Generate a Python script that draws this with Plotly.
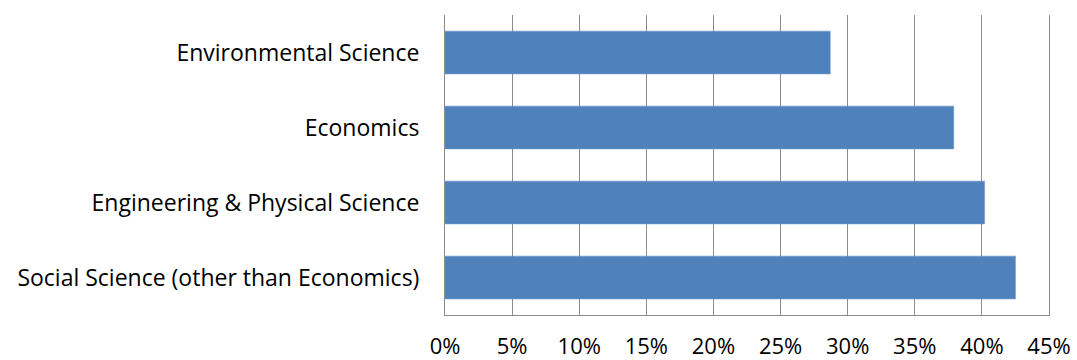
import plotly.graph_objects as go

# Share of respondents by field (top to bottom as displayed)
categories = [
    "Environmental Science",
    "Economics",
    "Engineering & Physical Science",
    "Social Science (other than Economics)",
]
shares = [0.287, 0.379, 0.402, 0.425]

tick_values = [0, 0.05, 0.10, 0.15, 0.20, 0.25, 0.30, 0.35, 0.40, 0.45]
tick_labels = ["0%", "5%", "10%", "15%", "20%", "25%", "30%", "35%", "40%", "45%"]

font_family = "'Open Sans', sans-serif"
label_size = 23

fig = go.Figure(
    go.Bar(
        x=shares,
        y=categories,
        orientation="h",
        marker=dict(color="#4F81BD", line=dict(color="#6E96C8", width=0.6)),
        hoverinfo="x+y",
    )
)

fig.update_layout(
    width=1077,
    height=360,
    margin=dict(l=445, r=28, t=15, b=45),
    paper_bgcolor="white",
    plot_bgcolor="white",
    showlegend=False,
    bargap=0.43,
    font=dict(family=font_family, size=label_size, color="#000000"),
)

fig.update_xaxes(
    range=[0, 0.45],
    tickvals=tick_values,
    ticktext=tick_labels,
    showgrid=True,
    gridcolor="#8C8C8C",
    gridwidth=1,
    zeroline=False,
    showline=True,
    linecolor="#8C8C8C",
    linewidth=1,
    mirror=False,
    ticks="",
    ticklabelstandoff=12,
    tickfont=dict(size=22),
    automargin=False,
)

fig.update_yaxes(
    categoryorder="array",
    categoryarray=categories[::-1],
    autorange=True,
    showgrid=False,
    zeroline=False,
    showline=True,
    mirror=True,
    linecolor="#8C8C8C",
    linewidth=1,
    ticks="",
    ticklabelstandoff=20,
    tickfont=dict(size=label_size),
    automargin=False,
)

fig.write_html("out.html")
